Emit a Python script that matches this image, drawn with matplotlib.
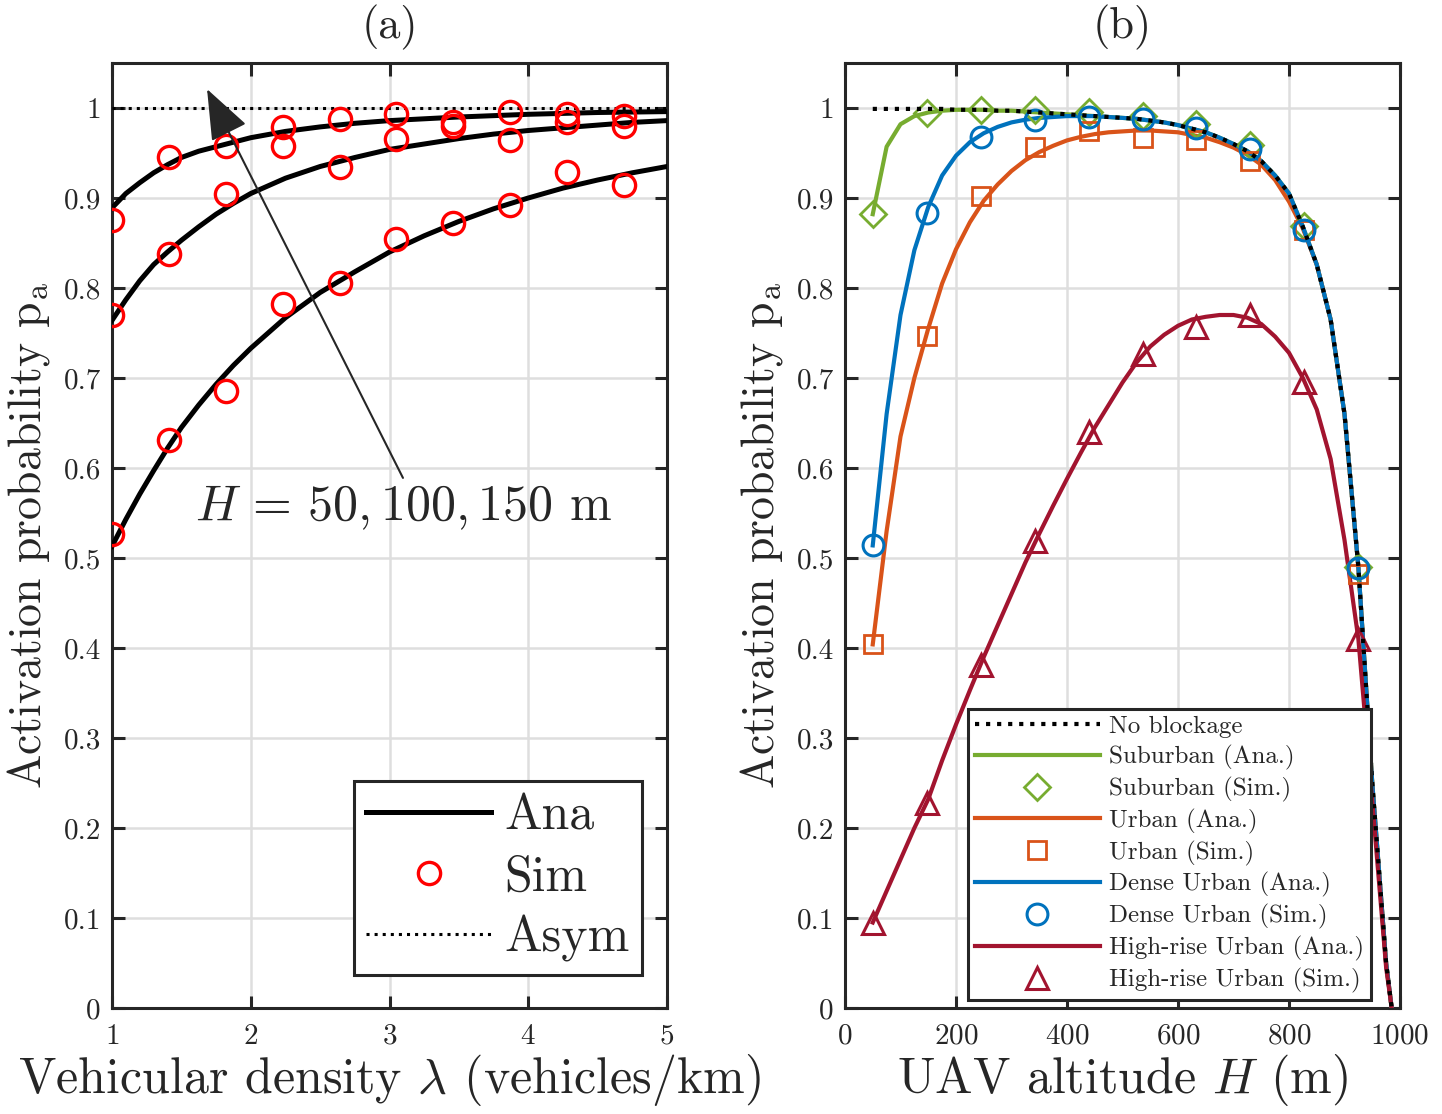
import matplotlib
matplotlib.use("Agg")
import matplotlib.pyplot as plt
from matplotlib.lines import Line2D
import numpy as np

plt.rcParams['font.family'] = ['cmr10', 'DejaVu Sans']
plt.rcParams['mathtext.fontset'] = 'cm'
plt.rcParams['axes.unicode_minus'] = False
plt.rcParams['axes.formatter.use_mathtext'] = True

# ---------------- (a) data ----------------
lam_ana = [1.0, 1.1, 1.2, 1.3, 1.4, 1.5, 1.625, 1.75, 1.875, 2.0, 2.25, 2.5, 2.75, 3.0, 3.25, 3.5, 3.75, 4.0, 4.25, 4.5, 4.75, 5.0]
pa_h50_ana = [0.889, 0.905, 0.917, 0.928, 0.937, 0.945, 0.952, 0.957, 0.962, 0.967, 0.974, 0.979, 0.983, 0.986, 0.988, 0.990,
              0.9915, 0.993, 0.994, 0.995, 0.9955, 0.996]
pa_h100_ana = [0.764, 0.787, 0.808, 0.826, 0.840, 0.853, 0.868, 0.882, 0.894, 0.905, 0.922, 0.935, 0.945, 0.954, 0.960, 0.966,
               0.971, 0.975, 0.978, 0.981, 0.984, 0.986]
pa_h150_ana = [0.513, 0.543, 0.571, 0.597, 0.622, 0.645, 0.670, 0.693, 0.714, 0.733, 0.767, 0.795, 0.818, 0.840, 0.858, 0.874,
               0.888, 0.900, 0.911, 0.920, 0.928, 0.935]

lam_sim = [1.0, 1.41, 1.82, 2.23, 2.64, 3.05, 3.46, 3.87, 4.28, 4.69]
pa_h50_sim = [0.876, 0.946, 0.958, 0.979, 0.988, 0.993, 0.985, 0.996, 0.993, 0.991]
pa_h100_sim = [0.770, 0.838, 0.904, 0.958, 0.934, 0.966, 0.980, 0.964, 0.985, 0.980]
pa_h150_sim = [0.527, 0.631, 0.686, 0.782, 0.806, 0.854, 0.872, 0.892, 0.929, 0.914]

lam_asym = [1.0, 5.0]
pa_asym = [1.0, 1.0]

# ---------------- (b) data ----------------
H_ana = [50, 75, 100, 125, 150, 175, 200, 225, 250, 275, 300, 325, 350, 375, 400, 425, 450,
         475, 500, 525, 550, 575, 600, 625, 650, 675, 700, 725, 750, 775, 800, 825, 850,
         875, 900, 925, 950, 975, 985]
pa_noblock = [0.999, 0.999, 0.999, 0.999, 0.999, 0.999, 0.998, 0.998, 0.998, 0.997, 0.997, 0.996, 0.995, 0.994, 0.993, 0.992, 0.991,
              0.990, 0.989, 0.988, 0.986, 0.984, 0.981, 0.977, 0.973, 0.967, 0.960, 0.952, 0.941, 0.925, 0.905, 0.868, 0.826,
              0.765, 0.660, 0.490, 0.250, 0.050, 0.0]
pa_suburban = [0.882, 0.957, 0.982, 0.991, 0.995, 0.997, 0.998, 0.998, 0.998, 0.997, 0.997, 0.996, 0.995, 0.994, 0.993, 0.992, 0.991,
               0.990, 0.989, 0.988, 0.986, 0.984, 0.981, 0.977, 0.973, 0.967, 0.960, 0.952, 0.941, 0.925, 0.905, 0.868, 0.826,
               0.765, 0.660, 0.490, 0.250, 0.050, 0.0]
pa_urban = [0.404, 0.530, 0.635, 0.700, 0.755, 0.805, 0.843, 0.873, 0.897, 0.915, 0.930, 0.942, 0.951, 0.958, 0.964, 0.968, 0.971,
            0.973, 0.974, 0.975, 0.975, 0.974, 0.973, 0.970, 0.967, 0.962, 0.956, 0.948, 0.937, 0.920, 0.896, 0.866, 0.826,
            0.765, 0.660, 0.490, 0.250, 0.050, 0.0]
pa_dense = [0.514, 0.660, 0.770, 0.842, 0.890, 0.925, 0.947, 0.962, 0.972, 0.979, 0.984, 0.987, 0.989, 0.990, 0.991, 0.991, 0.991,
            0.990, 0.989, 0.988, 0.986, 0.984, 0.981, 0.977, 0.973, 0.967, 0.960, 0.952, 0.941, 0.925, 0.905, 0.868, 0.826,
            0.765, 0.660, 0.490, 0.250, 0.050, 0.0]
pa_highrise = [0.095, 0.130, 0.165, 0.200, 0.232, 0.275, 0.315, 0.353, 0.390, 0.425, 0.460, 0.495, 0.527, 0.558, 0.588, 0.617, 0.645,
               0.670, 0.695, 0.717, 0.735, 0.748, 0.758, 0.765, 0.768, 0.770, 0.770, 0.767, 0.760, 0.746, 0.728, 0.700, 0.665,
               0.610, 0.520, 0.410, 0.230, 0.045, 0.0]

H_sim = [50, 147.2, 244.4, 341.7, 438.9, 536.1, 633.3, 730.6, 827.8, 925]
pa_suburban_sim = [0.882, 0.995, 0.998, 0.998, 0.996, 0.991, 0.982, 0.959, 0.869, 0.490]
pa_urban_sim = [0.404, 0.747, 0.902, 0.957, 0.975, 0.967, 0.965, 0.941, 0.864, 0.482]
pa_dense_sim = [0.514, 0.883, 0.968, 0.987, 0.990, 0.988, 0.978, 0.954, 0.864, 0.489]
pa_highrise_sim = [0.095, 0.228, 0.381, 0.519, 0.640, 0.727, 0.757, 0.770, 0.696, 0.410]

c_green = '#77AC30'
c_orange = '#D95319'
c_blue = '#0072BD'
c_red = '#A2142F'
axc = '#262626'

fig = plt.figure(figsize=(14.42, 11.14), dpi=100)
W, Hh = 1442, 1114
ax1 = fig.add_axes([112 / W, (Hh - 1008) / Hh, 555 / W, 945 / Hh])
ax2 = fig.add_axes([845 / W, (Hh - 1008) / Hh, 555 / W, 945 / Hh])

def style(ax):
    ax.grid(True, color='#dedede', linewidth=1.8)
    ax.set_axisbelow(True)
    for s in ax.spines.values():
        s.set_linewidth(2.2)
        s.set_color(axc)
    ax.tick_params(direction='in', length=9, width=2.2, color=axc, labelsize=21,
                   top=True, right=True, labelcolor=axc, pad=8)
    ax.tick_params(axis='x', pad=11)
    ax.set_ylim(0, 1.05)
    ax.set_yticks(np.arange(0, 1.01, 0.1))
    ax.set_yticklabels(['0', '0.1', '0.2', '0.3', '0.4', '0.5', '0.6', '0.7', '0.8', '0.9', '1'])

# ---- (a)
style(ax1)
ax1.set_xlim(1, 5)
ax1.set_xticks([1, 2, 3, 4, 5])
ax1.plot(lam_asym, pa_asym, ':', color='k', lw=2.2, zorder=3)
for ya in (pa_h50_ana, pa_h100_ana, pa_h150_ana):
    ax1.plot(lam_ana, ya, '-', color='k', lw=3.6, zorder=4)
for ys in (pa_h50_sim, pa_h100_sim, pa_h150_sim):
    ax1.plot(lam_sim, ys, 'o', ls='none', mfc='none', mec='#FF0000', ms=16, mew=2.4, zorder=5)

ax1.annotate('', xy=(1.685, 1.021), xytext=(3.097, 0.589),
             arrowprops=dict(arrowstyle='-|>,head_length=1.6,head_width=0.62', lw=1.5,
                             color=axc, shrinkA=0, shrinkB=0, mutation_scale=20), zorder=6)
ax1.text(3.10, 0.556, r'$H\,=\,50, 100, 150$ m', fontsize=36, ha='center', va='center', color=axc, zorder=6)

h_ana = Line2D([], [], color='k', lw=3.6)
h_sim = Line2D([], [], color='#FF0000', marker='o', ls='none', mfc='none', ms=16, mew=2.4)
h_asym = Line2D([], [], color='k', ls=':', lw=2.2)
leg1 = ax1.legend([h_ana, h_sim, h_asym], ['Ana', 'Sim', 'Asym'], loc='lower right',
                  bbox_to_anchor=(0.955, 0.035), borderaxespad=0, fontsize=36, handlelength=2.5,
                  handletextpad=0.26, labelspacing=0.3, borderpad=0.25, fancybox=False, framealpha=1)
leg1.get_frame().set_edgecolor(axc)
leg1.get_frame().set_linewidth(2.2)
for t in leg1.get_texts():
    t.set_color(axc)

ax1.set_xlabel(r'Vehicular density $\lambda$ (vehicles/km)', fontsize=36, color=axc, labelpad=2)
ax1.set_ylabel(r'Activation probability $\mathrm{p_a}$', fontsize=33, color=axc, labelpad=8)
ax1.set_title('(a)', fontsize=32, color=axc, pad=18)

# ---- (b)
style(ax2)
ax2.set_xlim(0, 1000)
ax2.set_xticks([0, 200, 400, 600, 800, 1000])
lw_b = 3.0
l_sub, = ax2.plot(H_ana, pa_suburban, '-', color=c_green, lw=lw_b, zorder=3)
l_urb, = ax2.plot(H_ana, pa_urban, '-', color=c_orange, lw=lw_b, zorder=3)
l_den, = ax2.plot(H_ana, pa_dense, '-', color=c_blue, lw=lw_b, zorder=3)
l_hig, = ax2.plot(H_ana, pa_highrise, '-', color=c_red, lw=lw_b, zorder=3)
m_sub, = ax2.plot(H_sim, pa_suburban_sim, 'D', ls='none', mfc='none', mec=c_green, ms=13, mew=2.0, zorder=4)
m_urb, = ax2.plot(H_sim, pa_urban_sim, 's', ls='none', mfc='none', mec=c_orange, ms=12.5, mew=2.0, zorder=4)
m_den, = ax2.plot(H_sim, pa_dense_sim, 'o', ls='none', mfc='none', mec=c_blue, ms=15, mew=2.2, zorder=4)
m_hig, = ax2.plot(H_sim, pa_highrise_sim, '^', ls='none', mfc='none', mec=c_red, ms=16, mew=2.2, zorder=4)
l_nb, = ax2.plot(H_ana, pa_noblock, ':', color='k', lw=3.0, zorder=5)

leg2 = ax2.legend([l_nb, l_sub, m_sub, l_urb, m_urb, l_den, m_den, l_hig, m_hig],
                  ['No blockage', 'Suburban (Ana.)', 'Suburban (Sim.)', 'Urban (Ana.)', 'Urban (Sim.)',
                   'Dense Urban (Ana.)', 'Dense Urban (Sim.)', 'High-rise Urban (Ana.)', 'High-rise Urban (Sim.)'],
                  loc='lower right', bbox_to_anchor=(0.947, 0.0085), borderaxespad=0, fontsize=18,
                  handlelength=5.0, handletextpad=0.35, labelspacing=0.27, borderpad=0.28,
                  fancybox=False, framealpha=1)
leg2.get_frame().set_edgecolor(axc)
leg2.get_frame().set_linewidth(2.2)
leg2.set_zorder(10)
for t in leg2.get_texts():
    t.set_color(axc)

ax2.set_xlabel(r'UAV altitude $H$ (m)', fontsize=36, color=axc, labelpad=2)
ax2.set_ylabel(r'Activation probability $\mathrm{p_a}$', fontsize=33, color=axc, labelpad=8)
ax2.set_title('(b)', fontsize=32, color=axc, pad=18)

fig.savefig('out.png', dpi=100)
